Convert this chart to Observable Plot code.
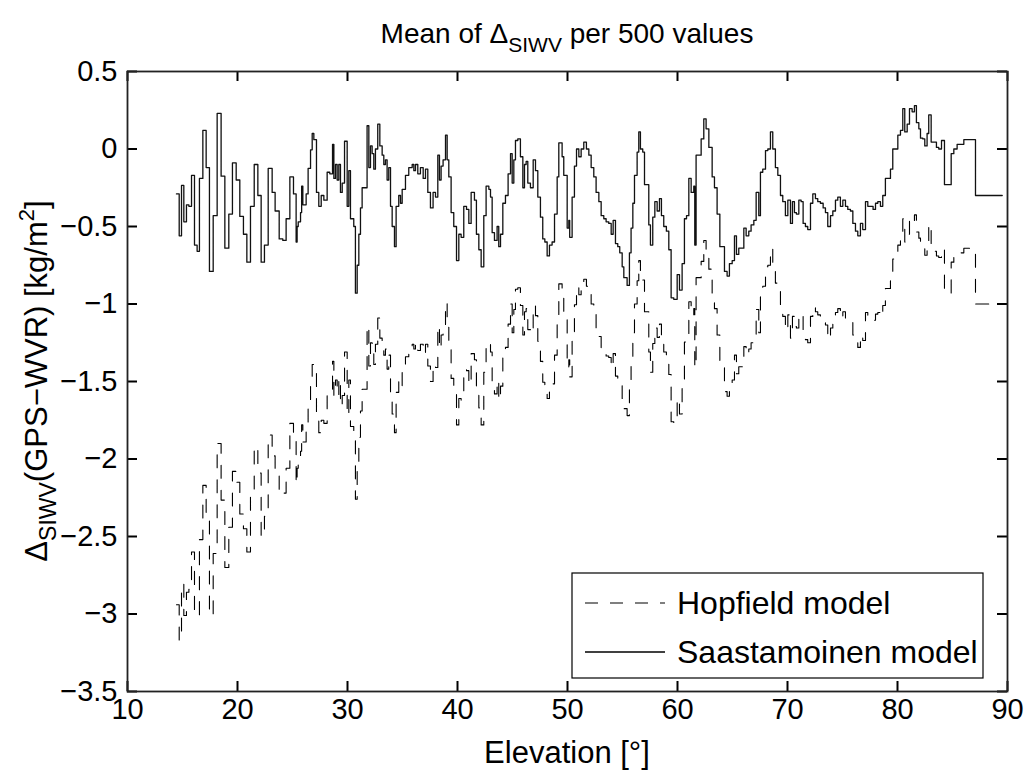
<!DOCTYPE html>
<html><head><meta charset="utf-8">
<script src="https://cdn.jsdelivr.net/npm/d3@7"></script>
<script src="https://cdn.jsdelivr.net/npm/@observablehq/plot@0.6"></script>
<style>body{margin:0;background:#fff}svg{display:block}</style>
</head><body><div id="chart"></div>
<script>
const elevation = [14.45,14.70,14.91,15.12,15.36,15.58,15.82,16.09,16.33,16.54,16.85,17.15,17.45,17.79,18.15,18.51,18.85,19.21,19.54,19.88,20.21,20.54,20.85,21.18,21.52,21.85,22.15,22.45,22.79,23.15,23.42,23.79,24.12,24.42,24.76,25.09,25.33,25.42,25.52,25.73,25.83,25.94,26.24,26.42,26.64,26.79,26.94,27.18,27.39,27.61,27.85,28.15,28.39,28.64,28.76,28.91,29.06,29.21,29.36,29.52,29.73,29.97,30.12,30.27,30.57,30.72,30.88,31.03,31.18,31.33,31.78,31.94,32.09,32.24,32.39,32.54,32.75,32.94,33.15,33.30,33.45,33.60,33.75,33.91,34.06,34.27,34.42,34.66,34.82,34.97,35.27,35.57,35.88,36.03,36.18,36.39,36.63,36.88,37.09,37.30,37.54,37.78,38.00,38.21,38.36,38.51,38.69,38.91,39.06,39.21,39.42,39.66,39.91,40.12,40.33,40.57,40.82,41.03,41.24,41.54,41.72,41.94,42.15,42.39,42.60,42.85,43.00,43.15,43.36,43.60,43.75,43.91,44.12,44.36,44.60,44.82,44.97,45.12,45.27,45.48,45.72,45.94,46.09,46.24,46.39,46.63,46.88,47.09,47.30,47.54,47.75,47.94,48.15,48.36,48.60,48.82,49.06,49.21,49.51,49.66,49.97,50.12,50.20,50.42,50.63,50.82,51.03,51.24,51.48,51.72,51.94,52.15,52.39,52.60,52.85,53.06,53.30,53.51,53.75,53.97,54.15,54.36,54.57,54.75,54.97,55.12,55.42,55.63,55.78,55.94,56.09,56.33,56.48,56.63,56.84,57.00,57.39,57.54,57.75,57.94,58.15,58.36,58.54,58.75,58.99,59.21,59.42,59.66,59.97,60.18,60.42,60.63,60.82,61.03,61.24,61.48,61.57,61.69,61.94,62.15,62.39,62.60,62.85,63.15,63.36,63.60,63.85,64.06,64.27,64.51,64.72,64.97,65.18,65.36,65.57,65.78,66.03,66.24,66.48,66.69,66.94,67.15,67.39,67.54,67.75,68.00,68.21,68.45,68.66,68.90,69.12,69.36,69.57,69.81,70.03,70.27,70.45,70.63,70.81,71.03,71.24,71.42,71.63,71.84,72.09,72.30,72.54,72.75,72.99,73.24,73.45,73.66,73.91,74.12,74.36,74.57,74.81,75.03,75.27,75.48,75.72,75.94,76.18,76.39,76.63,76.84,77.09,77.30,77.54,77.78,78.00,78.21,78.45,78.66,78.90,79.12,79.36,79.57,79.81,80.03,80.27,80.48,80.66,80.88,81.09,81.33,81.54,81.72,81.94,82.09,82.30,82.48,82.69,82.84,83.06,83.30,83.54,83.75,84.00,84.27,84.88,85.12,85.42,86.03,87.09,89.52];

const saastamoinen = [-0.29,-0.56,-0.235,-0.47,-0.36,-0.37,-0.17,-0.62,-0.66,-0.19,0.12,-0.12,-0.79,-0.43,0.23,-0.175,-0.64,-0.42,-0.09,-0.20,-0.435,-0.55,-0.73,-0.37,-0.10,-0.30,-0.73,-0.62,-0.125,-0.28,-0.40,-0.58,-0.59,-0.45,-0.18,-0.29,-0.60,-0.50,-0.47,-0.41,-0.24,-0.36,-0.29,-0.125,-0.005,0.10,0.06,-0.28,-0.37,-0.30,-0.33,-0.15,-0.16,0.03,-0.19,-0.10,-0.20,-0.10,-0.28,-0.22,0.05,-0.37,-0.14,-0.45,-0.50,-0.93,-0.75,-0.55,-0.38,-0.25,0.15,-0.12,0.02,-0.03,-0.13,0.0,0.16,0.02,-0.04,-0.10,-0.07,-0.20,-0.12,-0.37,-0.50,-0.63,-0.37,-0.30,-0.35,-0.26,-0.17,-0.12,-0.10,-0.14,-0.10,-0.16,-0.12,-0.19,-0.13,-0.28,-0.38,-0.28,-0.31,-0.04,-0.20,-0.11,-0.07,0.09,-0.07,-0.18,-0.41,-0.50,-0.72,-0.55,-0.57,-0.37,-0.39,-0.48,-0.28,-0.33,-0.55,-0.65,-0.76,-0.43,-0.24,-0.26,-0.31,-0.54,-0.59,-0.50,-0.63,-0.55,-0.35,-0.30,-0.16,-0.03,-0.22,-0.07,0.055,0.065,-0.05,-0.25,-0.10,-0.08,-0.22,-0.25,-0.07,-0.14,-0.31,-0.44,-0.58,-0.60,-0.69,-0.62,-0.60,-0.42,-0.18,0.04,-0.05,-0.17,-0.51,-0.46,-0.57,-0.31,-0.11,0.0,-0.05,0.0,0.044,0.0,-0.04,-0.12,-0.18,-0.28,-0.34,-0.43,-0.45,-0.47,-0.48,-0.55,-0.46,-0.61,-0.63,-0.67,-0.76,-0.83,-0.88,-0.67,-0.51,-0.35,-0.17,-0.02,0.11,0.0,-0.02,-0.23,-0.49,-0.62,-0.44,-0.34,-0.40,-0.32,-0.43,-0.50,-0.53,-0.65,-0.96,-0.97,-0.81,-0.91,-0.74,-0.45,-0.43,-0.19,-0.28,-0.24,-0.62,-0.04,-0.04,0.065,0.195,0.13,0.01,-0.18,-0.25,-0.42,-0.63,-0.63,-0.79,-0.82,-0.74,-0.72,-0.56,-0.68,-0.64,-0.64,-0.51,-0.56,-0.53,-0.49,-0.46,-0.28,-0.43,-0.15,-0.13,-0.01,0.0,0.11,0.0,-0.12,-0.17,-0.30,-0.34,-0.43,-0.33,-0.48,-0.34,-0.41,-0.42,-0.33,-0.34,-0.48,-0.50,-0.52,-0.35,-0.29,-0.32,-0.34,-0.35,-0.38,-0.41,-0.50,-0.43,-0.40,-0.33,-0.31,-0.37,-0.33,-0.37,-0.39,-0.40,-0.48,-0.53,-0.56,-0.48,-0.52,-0.34,-0.37,-0.37,-0.39,-0.35,-0.34,-0.37,-0.30,-0.19,-0.19,-0.13,0.0,0.0,0.09,0.12,0.26,0.11,0.16,0.26,0.24,0.28,0.17,0.13,0.07,0.065,0.02,0.10,0.22,0.045,0.045,0.01,0.0,0.055,-0.23,-0.03,0.0,0.03,0.06,-0.30,-0.30];

const hopfield = [-2.94,-3.17,-2.805,-3.01,-2.86,-2.84,-2.60,-3.01,-3.01,-2.52,-2.17,-2.37,-3.01,-2.61,-1.90,-2.265,-2.70,-2.44,-2.08,-2.15,-2.355,-2.45,-2.60,-2.22,-1.92,-2.09,-2.50,-2.37,-1.845,-1.98,-2.08,-2.23,-2.22,-2.06,-1.77,-1.87,-2.16,-2.06,-2.02,-1.95,-1.78,-1.89,-1.80,-1.635,-1.505,-1.39,-1.42,-1.75,-1.83,-1.75,-1.77,-1.57,-1.57,-1.37,-1.59,-1.49,-1.59,-1.48,-1.66,-1.59,-1.31,-1.72,-1.49,-1.79,-1.83,-2.26,-2.07,-1.86,-1.69,-1.55,-1.14,-1.40,-1.25,-1.30,-1.39,-1.26,-1.09,-1.22,-1.28,-1.33,-1.29,-1.42,-1.33,-1.58,-1.71,-1.83,-1.57,-1.49,-1.53,-1.44,-1.34,-1.29,-1.26,-1.29,-1.25,-1.30,-1.26,-1.32,-1.26,-1.40,-1.50,-1.39,-1.41,-1.14,-1.29,-1.20,-1.16,-0.99,-1.15,-1.26,-1.48,-1.57,-1.78,-1.61,-1.62,-1.42,-1.43,-1.52,-1.32,-1.36,-1.58,-1.67,-1.78,-1.44,-1.25,-1.26,-1.31,-1.54,-1.58,-1.49,-1.62,-1.53,-1.33,-1.28,-1.13,-1.00,-1.185,-1.035,-0.905,-0.895,-1.01,-1.20,-1.05,-1.03,-1.165,-1.19,-1.01,-1.075,-1.24,-1.37,-1.505,-1.52,-1.61,-1.54,-1.515,-1.33,-1.09,-0.87,-0.955,-1.075,-1.41,-1.36,-1.47,-1.205,-1.005,-0.89,-0.94,-0.89,-0.84,-0.885,-0.92,-1.00,-1.055,-1.155,-1.21,-1.30,-1.32,-1.335,-1.345,-1.41,-1.32,-1.465,-1.485,-1.52,-1.61,-1.675,-1.72,-1.51,-1.345,-1.185,-1.00,-0.85,-0.72,-0.825,-0.845,-1.05,-1.31,-1.44,-1.255,-1.155,-1.215,-1.13,-1.24,-1.31,-1.335,-1.455,-1.76,-1.77,-1.61,-1.71,-1.54,-1.245,-1.225,-0.985,-1.07,-1.03,-1.41,-0.83,-0.83,-0.725,-0.59,-0.655,-0.775,-0.96,-1.03,-1.20,-1.405,-1.405,-1.565,-1.595,-1.51,-1.49,-1.33,-1.45,-1.405,-1.405,-1.275,-1.325,-1.29,-1.25,-1.22,-1.035,-1.185,-0.905,-0.885,-0.76,-0.75,-0.64,-0.75,-0.865,-0.915,-1.045,-1.08,-1.17,-1.07,-1.22,-1.08,-1.145,-1.155,-1.065,-1.075,-1.215,-1.23,-1.25,-1.08,-1.02,-1.05,-1.07,-1.08,-1.105,-1.135,-1.225,-1.155,-1.125,-1.055,-1.03,-1.09,-1.05,-1.09,-1.11,-1.12,-1.20,-1.25,-1.28,-1.20,-1.235,-1.055,-1.085,-1.085,-1.105,-1.065,-1.055,-1.08,-1.01,-0.90,-0.90,-0.84,-0.71,-0.71,-0.62,-0.59,-0.45,-0.60,-0.55,-0.445,-0.465,-0.425,-0.535,-0.575,-0.635,-0.64,-0.685,-0.605,-0.485,-0.66,-0.66,-0.69,-0.70,-0.645,-0.93,-0.73,-0.70,-0.67,-0.64,-1.00,-1.00];

const xTicks = [10,20,30,40,50,60,70,80,90];
const yTicks = [0.5,0,-0.5,-1,-1.5,-2,-2.5,-3,-3.5];
const seriesNames = ["Hopfield model","Saastamoinen model"];

const n = Math.min(elevation.length, saastamoinen.length, hopfield.length);
const rows = d3.range(n).map(i => ({e: elevation[i], s: saastamoinen[i], h: hopfield[i]}));

const W = 1031, H = 776, ML = 127, MR = 24, MT = 71, MB = 85;
const FW = W - ML - MR, FH = H - MT - MB, TL = 10;
const FONT = "'Liberation Sans', Arial, Helvetica, sans-serif";
const fmt = d => (d < 0 ? "\u2212" : "") + Math.abs(d);
const tickStyle = {stroke: "#000", strokeWidth: 2};

const plot = Plot.plot({
  width: W, height: H,
  marginLeft: ML, marginRight: MR, marginTop: MT, marginBottom: MB,
  style: {fontFamily: FONT, background: "#fff", color: "#000", overflow: "visible"},
  x: {domain: [10, 90]},
  y: {domain: [-3.5, 0.5]},
  marks: [
    Plot.axisX({ticks: xTicks, tickFormat: fmt, tickSize: 0, tickPadding: 7, fontSize: 29, label: null}),
    Plot.axisY({ticks: yTicks, tickFormat: fmt, tickSize: 0, tickPadding: 10, fontSize: 29, label: null}),
    Plot.line(rows, {x: "e", y: "h", curve: "step-after", stroke: "#000", strokeWidth: 1.1, strokeDasharray: "13,12"}),
    Plot.line(rows, {x: "e", y: "s", curve: "step-after", stroke: "#111", strokeWidth: 1.3}),
    // inward ticks on all four sides
    Plot.ruleX(xTicks, {x: d => d, insetBottom: FH - TL, ...tickStyle}),
    Plot.ruleX(xTicks, {x: d => d, insetTop: FH - TL, ...tickStyle}),
    Plot.ruleY(yTicks, {y: d => d, insetRight: FW - TL, ...tickStyle}),
    Plot.ruleY(yTicks, {y: d => d, insetLeft: FW - TL, ...tickStyle}),
    Plot.frame({stroke: "#222", strokeWidth: 1.8})
  ]
});
document.getElementById("chart").append(plot);

const svg = d3.select(plot);
const cx = ML + FW / 2, cy = MT + FH / 2;
// title
const title = svg.append("text").attr("x", cx).attr("y", 43).attr("text-anchor", "middle")
  .attr("font-family", FONT).attr("font-size", 28).attr("fill", "#000");
title.append("tspan").text("Mean of \u0394");
title.append("tspan").attr("font-size", 21).attr("dy", 9).text("SIWV");
title.append("tspan").attr("dy", -9).text(" per 500 values");

// x label
svg.append("text").attr("x", cx).attr("y", 763).attr("text-anchor", "middle")
  .attr("font-family", FONT).attr("font-size", 31).attr("fill", "#000").text("Elevation [\u00B0]");

// y label
const yl = svg.append("text").attr("transform", `translate(47,${cy}) rotate(-90)`).attr("text-anchor", "middle")
  .attr("font-family", FONT).attr("font-size", 31).attr("fill", "#000");
yl.append("tspan").text("\u0394");
yl.append("tspan").attr("font-size", 23).attr("dy", 9).text("SIWV");
yl.append("tspan").attr("dy", -9).text("(GPS\u2212WVR) [kg/m");
yl.append("tspan").attr("font-size", 22).attr("dy", -13).text("2");
yl.append("tspan").attr("dy", 13).text("]");

// legend
const lg = svg.append("g");
lg.append("rect").attr("x", 572).attr("y", 573).attr("width", 411).attr("height", 105)
  .attr("fill", "#fff").attr("stroke", "#000").attr("stroke-width", 1.2);
const legendY = [603, 652];
const dashes = ["13,12", null];
seriesNames.forEach((name, i) => {
  const l = lg.append("line").attr("x1", 585).attr("x2", 665).attr("y1", legendY[i]).attr("y2", legendY[i])
    .attr("stroke", "#000").attr("stroke-width", i ? 1.3 : 1.1);
  if (dashes[i]) l.attr("stroke-dasharray", dashes[i]);
  lg.append("text").attr("x", 677).attr("y", legendY[i] + 11).attr("text-anchor", "start")
    .attr("font-family", FONT).attr("font-size", 32).attr("fill", "#000").text(name);
});
</script>
</body></html>
